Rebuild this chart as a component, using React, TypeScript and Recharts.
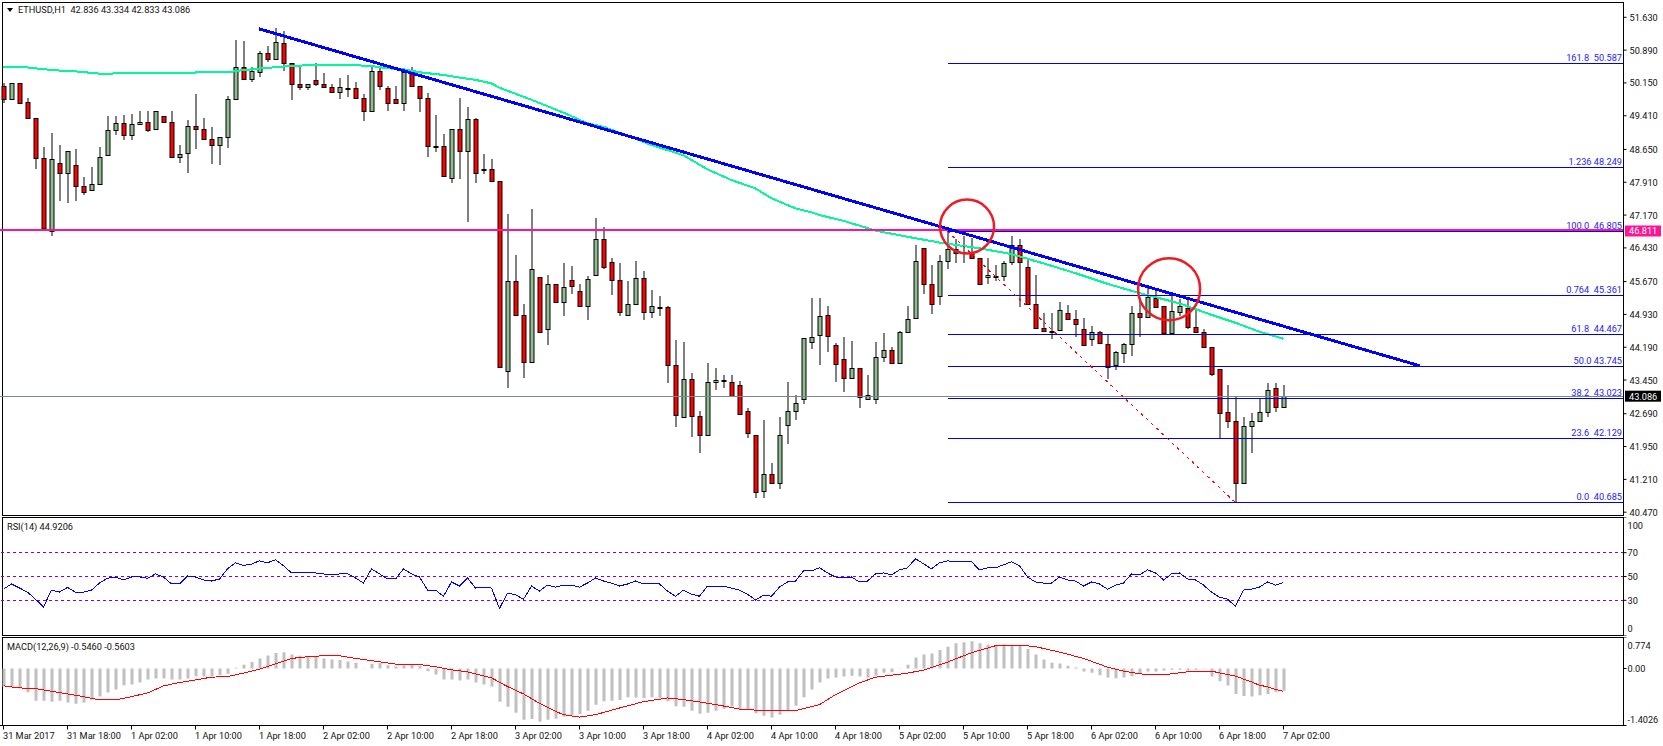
import React from 'react';
import { ComposedChart, Bar, Line, XAxis, YAxis, ReferenceLine, ReferenceDot } from 'recharts';

const opens = [50.09,49.79,50.14,49.71,49.37,48.45,46.81,48.35,48.11,48.29,
  47.82,47.73,47.88,48.52,49.08,49.24,48.97,49.22,49.28,49.10,
  49.40,49.26,48.47,48.56,49.19,49.10,48.88,48.74,48.92,49.78,
  50.50,50.23,50.39,50.82,50.70,51.04,50.61,50.12,50.05,50.21,
  50.12,50.05,49.94,50.04,50.03,49.80,49.51,50.41,50.03,49.78,
  49.69,50.37,50.07,49.80,48.72,48.72,48.00,49.10,48.61,49.33,
  48.20,48.20,47.93,43.65,45.68,44.91,43.85,45.77,44.59,45.61,
  45.20,45.70,45.45,45.11,45.81,46.62,46.11,45.70,44.91,45.16,
  45.74,44.98,45.10,45.09,43.80,42.61,43.47,42.63,42.20,43.40,
  43.44,43.40,43.33,42.75,42.20,40.94,41.32,41.12,42.43,42.75,
  43.02,44.30,44.46,44.91,44.23,43.92,43.49,43.72,43.02,43.02,
  43.96,44.12,43.83,44.53,44.84,46.42,45.61,45.34,46.13,46.40,
  46.33,46.33,46.20,45.77,45.80,45.79,46.11,46.49,46.01,45.16,
  44.62,44.56,44.57,44.96,44.82,44.59,44.37,44.53,44.26,43.78,
  44.05,44.26,44.96,44.87,45.29,45.11,44.50,44.98,45.07,44.64,
  44.53,44.19,43.69,42.72,42.52,41.12,42.41,42.52,42.72,43.26,42.836];
const highs = [50.14,50.14,50.14,49.80,49.37,48.71,49.01,48.74,48.61,48.66,
  48.03,48.25,48.70,49.40,49.40,49.43,49.45,49.52,49.52,49.51,
  49.40,49.52,48.75,49.31,49.90,49.36,49.16,48.92,49.85,51.12,
  51.10,50.52,50.88,50.98,51.38,51.31,50.61,50.52,50.12,50.59,
  50.37,50.12,50.25,50.34,50.16,49.89,50.55,50.48,50.09,50.09,
  50.48,50.52,50.07,49.92,49.43,48.99,49.10,49.80,49.60,49.36,
  48.54,48.43,47.93,47.19,46.27,45.17,47.31,45.77,45.82,45.61,
  46.08,46.02,45.61,45.79,47.10,46.89,46.20,46.08,45.68,46.13,
  45.90,45.47,45.34,45.12,44.35,44.30,43.60,42.75,43.83,43.72,
  43.56,43.56,43.42,42.81,42.20,42.56,41.59,42.61,43.40,43.11,
  44.39,45.29,45.30,45.11,44.28,44.41,44.32,43.72,43.56,44.30,
  44.50,44.19,44.55,45.11,46.49,46.42,46.04,46.26,46.87,46.62,
  46.69,46.65,46.20,46.20,46.04,46.13,46.69,46.62,46.20,45.81,
  44.96,44.96,45.20,45.14,45.02,44.84,44.66,44.55,44.48,44.10,
  44.28,45.11,45.29,45.52,45.48,45.11,45.35,45.28,45.26,45.07,
  44.59,44.19,43.69,43.33,43.07,42.61,42.70,43.04,43.38,43.38,43.334];
const lows = [49.69,49.79,49.67,49.37,48.21,46.88,46.70,47.49,47.45,47.49,
  47.62,47.73,47.88,48.52,48.97,48.86,48.86,49.22,49.05,49.10,
  49.26,48.47,48.35,48.13,48.67,48.88,48.33,48.31,48.69,49.78,
  50.23,50.18,50.29,50.63,50.70,50.43,49.77,50.00,50.00,50.09,
  50.05,49.94,49.79,49.84,49.80,49.30,49.51,50.00,49.52,49.69,
  49.52,50.07,49.50,48.49,48.60,48.04,47.90,47.99,47.02,47.90,
  48.10,47.93,43.74,43.28,44.91,43.50,43.85,44.50,44.24,45.20,
  44.90,45.40,45.11,44.80,45.81,45.96,45.37,44.90,44.91,45.16,
  44.81,44.86,44.90,43.39,42.40,42.61,42.17,41.81,42.20,43.23,
  43.28,43.08,42.68,42.15,40.80,40.80,41.12,40.99,42.00,42.56,
  42.90,44.14,43.80,44.09,43.41,43.19,43.49,42.83,43.02,42.90,
  43.85,43.83,43.83,44.53,44.84,45.40,44.95,45.15,45.96,46.10,
  46.10,46.20,45.61,45.61,45.68,45.68,46.04,45.10,45.16,44.59,
  44.55,44.38,44.57,44.82,44.43,44.21,44.21,44.28,43.48,43.68,
  43.84,44.00,44.43,44.87,45.10,44.50,44.47,44.90,44.59,44.53,
  44.19,43.53,42.14,42.36,40.685,41.12,41.80,42.52,42.62,42.74,42.833];
const closes = [49.79,50.14,49.70,49.37,48.45,46.88,48.43,48.11,48.61,47.82,
  47.70,47.88,48.49,49.08,49.24,48.97,49.22,49.28,49.08,49.51,
  49.26,48.47,48.54,49.19,49.10,48.88,48.74,48.92,49.78,50.50,
  50.23,50.43,50.82,50.70,51.07,50.61,50.12,50.05,50.12,50.12,
  50.05,49.94,50.05,50.03,49.80,49.51,50.41,50.09,49.69,49.69,
  50.39,50.07,49.80,48.72,48.72,48.04,49.10,48.61,49.33,48.11,
  48.20,47.93,43.74,45.68,44.91,43.85,45.95,44.54,45.61,45.20,
  45.54,45.56,45.11,45.72,46.62,45.99,45.70,44.98,45.16,45.74,
  44.98,45.11,45.10,43.80,42.66,43.47,42.63,42.20,43.40,43.44,
  43.44,43.08,42.68,42.25,40.92,41.32,41.12,42.20,42.75,42.93,
  44.39,44.41,44.89,44.44,43.81,43.49,43.72,43.06,43.11,43.96,
  44.12,43.83,44.53,44.82,46.13,45.61,45.16,46.13,46.40,46.31,
  46.31,46.20,45.61,45.81,45.80,46.08,46.49,46.11,45.16,44.62,
  44.55,44.56,45.02,44.82,44.71,44.23,44.53,44.28,43.75,44.08,
  44.26,44.96,44.87,45.32,45.10,44.50,45.00,45.11,44.64,44.53,
  44.19,43.58,42.70,42.52,41.12,42.41,42.52,42.72,43.22,42.84,43.086];

// moving average, read at the bars where the curve could be read
const maBars = [0,3,5,7,9,12,19,20,28,30,35,38,44,46,48,50,52,54,55,57,59,61,62,66,70,73,75,78,81,85,88,91,94,96,99,101,102,105,109,113,117,122,126,130,134,138,142,147,151,154,157,160];
const maValues = [50.52,50.50,50.46,50.43,50.41,50.36,50.37,50.38,50.39,50.44,50.52,50.55,50.55,50.53,50.48,50.46,50.39,50.35,50.33,50.27,50.22,50.14,50.04,49.77,49.48,49.24,49.16,48.96,48.75,48.52,48.20,47.96,47.77,47.55,47.32,47.23,47.17,47.04,46.82,46.68,46.55,46.42,46.29,46.08,45.86,45.62,45.41,45.18,44.92,44.74,44.54,44.38];

const rsi = [39.4,43.7,40.3,36.9,30.9,24.4,38.6,36.9,40.8,36.9,36.9,38.6,44.5,48.5,49.6,47.1,49.6,49.6,48.5,52.2,
  49.6,43.7,43.7,50.5,49.6,47.1,46.2,47.9,56.4,61.5,59.3,60.4,63.2,61.5,64.1,59.0,53.0,53.0,53.0,53.0,
  52.2,51.3,52.2,52.2,48.8,44.5,56.4,52.2,47.9,47.9,56.4,52.2,49.6,38.6,38.6,33.4,45.4,42.0,48.8,40.3,
  41.1,40.3,23.2,36.0,34.6,30.9,42.0,37.7,42.8,41.1,42.8,42.8,41.1,44.5,48.8,46.2,44.5,42.0,43.7,46.2,
  43.7,43.7,43.7,37.7,33.4,38.6,35.1,33.4,42.0,42.0,42.0,40.3,38.6,35.1,30.3,34.3,33.4,41.1,45.4,46.2,
  54.7,54.7,57.3,53.0,49.6,48.8,49.6,45.4,46.2,52.2,53.0,51.3,55.6,57.3,64.9,60.7,56.4,61.5,63.2,62.4,
  62.4,62.4,55.6,57.3,57.3,59.8,62.4,59.0,49.6,45.4,44.5,44.5,49.6,47.1,46.2,42.0,45.4,43.7,39.4,42.8,
  44.5,52.2,51.3,55.6,53.0,47.1,52.2,53.0,47.9,47.1,42.8,36.9,32.6,30.9,24.9,38.6,39.4,41.1,45.4,42.8,44.92];

const macdHist = [-0.445,-0.453,-0.494,-0.585,-0.791,-0.791,-0.816,-0.791,-0.84,-0.865,-0.84,-0.766,-0.692,-0.593,-0.519,-0.412,-0.396,-0.346,-0.272,-0.247,
  -0.247,-0.272,-0.272,-0.247,-0.19,-0.198,-0.19,-0.165,-0.132,0.016,0.091,0.157,0.247,0.321,0.379,0.396,0.346,0.313,0.297,0.28,
  0.247,0.222,0.206,0.173,0.14,0.008,0.115,0.132,0.082,0.049,0.074,0.091,0.058,-0.066,-0.148,-0.272,-0.272,-0.297,-0.272,-0.346,
  -0.396,-0.445,-0.816,-0.939,-1.088,-1.261,-1.244,-1.31,-1.261,-1.236,-1.187,-1.154,-1.121,-1.038,-0.89,-0.808,-0.791,-0.775,-0.709,-0.717,
  -0.725,-0.709,-0.725,-0.808,-0.931,-0.939,-1.038,-1.112,-1.088,-1.038,-0.989,-0.931,-1.005,-1.014,-1.104,-1.162,-1.203,-1.137,-1.03,-0.915,
  -0.709,-0.519,-0.346,-0.247,-0.222,-0.198,-0.181,-0.198,-0.231,-0.181,-0.107,-0.091,0.008,0.091,0.272,0.346,0.371,0.453,0.536,0.618,
  0.643,0.667,0.618,0.585,0.56,0.593,0.585,0.56,0.478,0.346,0.222,0.14,0.124,0.066,0.025,-0.074,-0.107,-0.165,-0.222,-0.239,
  -0.222,-0.19,-0.124,-0.074,-0.074,-0.049,-0.033,-0.033,-0.049,-0.033,-0.008,-0.198,-0.313,-0.42,-0.626,-0.676,-0.692,-0.659,-0.626,-0.577,-0.546];

const signalBars = [0,2,4,6,8,10,12,14,16,18,20,22,24,26,28,30,32,34,36,38,40,42,44,47,49,52,54,56,58,61,63,65,67,69,70,72,74,77,80,83,85,87,90,92,95,99,102,104,107,109,113,115,118,121,124,127,129,132,135,138,140,143,145,148,151,154,156,157,158,159,160];
const signalValues = [-0.428,-0.478,-0.494,-0.56,-0.626,-0.692,-0.775,-0.775,-0.692,-0.602,-0.428,-0.346,-0.28,-0.214,-0.198,-0.115,-0.016,0.115,0.247,0.288,0.313,0.313,0.247,0.165,0.107,0.099,0.041,-0.033,-0.082,-0.231,-0.445,-0.626,-0.857,-1.055,-1.137,-1.195,-1.137,-0.972,-0.816,-0.725,-0.766,-0.824,-0.923,-0.997,-1.038,-1.038,-0.89,-0.643,-0.354,-0.214,-0.115,-0.041,0.157,0.387,0.56,0.577,0.536,0.404,0.247,0.033,-0.066,-0.157,-0.157,-0.082,-0.066,-0.19,-0.33,-0.412,-0.45,-0.519,-0.5603];

const timeLabels = ['31 Mar 2017','31 Mar 18:00','1 Apr 02:00','1 Apr 10:00','1 Apr 18:00','2 Apr 02:00','2 Apr 10:00','2 Apr 18:00','3 Apr 02:00','3 Apr 10:00','3 Apr 18:00','4 Apr 02:00','4 Apr 10:00','4 Apr 18:00','5 Apr 02:00','5 Apr 10:00','5 Apr 18:00','6 Apr 02:00','6 Apr 10:00','6 Apr 18:00','7 Apr 02:00'];
const priceTicks = [51.63,50.89,50.15,49.41,48.65,47.91,47.17,46.43,45.67,44.93,44.19,43.45,42.69,41.95,41.21,40.47];
const rsiTicks = [100,70,50,30,0];
const rsiLevels = [70,50,30];
const macdTicks = [0.774,0,-1.4026];

const fibPrices = [50.587,48.249,46.805,45.361,44.467,43.745,43.023,42.129,40.685];
const fibLabels = ['161.8  50.587','1.236 48.249','100.0  46.805','0.764  45.361','61.8  44.467','50.0 43.745','38.2  43.023','23.6  42.129','0.0  40.685'];

const FONT = 'Roboto, sans-serif';
const FONT_SIZE = 9.2;
const TOTAL_BARS = 203;
const W = 1663;
const AXIS_W = 39.5;
const margin = { top: 0, right: 0, left: -0.5, bottom: 0 };

const rows = Array.from({ length: TOTAL_BARS }, (_, idx) => {
  const has = idx < opens.length;
  const maAt = maBars.indexOf(idx);
  const sigAt = signalBars.indexOf(idx);
  return {
    idx,
    open: has ? opens[idx] : null,
    high: has ? highs[idx] : null,
    low: has ? lows[idx] : null,
    close: has ? closes[idx] : null,
    ma: maAt >= 0 ? maValues[maAt] : null,
    rsi: has ? rsi[idx] : null,
    hist: has ? macdHist[idx] : null,
    signal: sigAt >= 0 ? signalValues[sigAt] : null,
  };
});

const Candle = (props: any) => {
  const { x, y, width, height, payload } = props;
  if (payload == null || payload.open == null) return null;
  const cx = x + width / 2;
  const h = Math.abs(height);
  const range = payload.high - payload.low || 1;
  const toY = (v: number) => y + ((payload.high - v) / range) * h;
  const top = Math.round(toY(Math.max(payload.open, payload.close)));
  const bottom = Math.round(toY(Math.min(payload.open, payload.close)));
  const up = payload.close >= payload.open;
  return (
    <g>
      <line x1={cx} x2={cx} y1={Math.round(y)} y2={Math.round(y + h)} stroke="#000" strokeWidth={1} />
      <rect x={cx - 2} y={top + 0.5} width={4} height={Math.max(bottom - top, 1)} fill={up ? '#8fbc8f' : '#ff0000'} stroke="#000" strokeWidth={1} />
    </g>
  );
};

// horizontal levels sit on whole pixels, as in the terminal
const CrispLine = ({ x1, x2, y1, y2, stroke, strokeWidth, strokeDasharray }: any) => {
  const off = strokeWidth % 2 ? 0.5 : 0;
  return (
    <line
      x1={x1}
      x2={x2}
      y1={Math.floor(y1) + off}
      y2={Math.floor(y2) + off}
      stroke={stroke}
      strokeWidth={strokeWidth}
      strokeDasharray={strokeDasharray}
      shapeRendering="crispEdges"
    />
  );
};

const AliasedLine = (props: any) => <line {...props} fill="none" shapeRendering="crispEdges" />;

const AxisTick = ({ x, y, payload, text, minY, maxY, dx }: any) => {
  const ty = Math.min(Math.max(y, minY), maxY);
  return (
    <text x={x + dx} y={ty} dominantBaseline="central" fontFamily={FONT} fontSize={FONT_SIZE} fill="#111">
      {text(payload.value)}
    </text>
  );
};

const TimeTick = ({ x, y, payload }: any) => (
  <text x={x - 0.5} y={y + 4} dominantBaseline="central" fontFamily={FONT} fontSize={FONT_SIZE} fill="#111">
    {timeLabels[payload.value / 8]}
  </text>
);

const FibLabel = ({ viewBox, text }: any) => (
  <text x={viewBox.x + viewBox.width - 1.5} y={viewBox.y - 6} textAnchor="end" dominantBaseline="central" fontFamily={FONT} fontSize={FONT_SIZE} fill="#2222ff" style={{ whiteSpace: 'pre' }}>
    {text}
  </text>
);

const PriceTag = ({ viewBox, text, bg }: any) => (
  <g>
    <rect x={viewBox.x + viewBox.width + 1.5} y={viewBox.y - 5.5} width={36} height={11} fill={bg} />
    <text x={viewBox.x + viewBox.width + 5.5} y={viewBox.y} dominantBaseline="central" fontFamily={FONT} fontSize={FONT_SIZE} fill="#fff">
      {text}
    </text>
  </g>
);

const Frame = ({ top, height }: { top: number; height: number }) => (
  <div style={{ position: 'absolute', left: 2, top, width: 1622, height, boxSizing: 'border-box', border: '1px solid #000' }} />
);

const Caption = ({ top, left, children }: { top: number; left: number; children: React.ReactNode }) => (
  <div style={{ position: 'absolute', left, top, fontFamily: FONT, fontSize: FONT_SIZE, lineHeight: '12px', color: '#111', whiteSpace: 'pre' }}>
    {children}
  </div>
);

const Panel = ({ top, children }: { top: number; children: React.ReactNode }) => (
  <div style={{ position: 'absolute', left: 0, top }}>{children}</div>
);

const priceAxisLine = { stroke: '#000' };

export default function App() {
  return (
    <div style={{ position: 'absolute', left: 0, top: 0, width: W, height: 746, background: '#fff', overflow: 'hidden' }}>
      <Frame top={2} height={514} />
      <Frame top={517} height={119} />
      <Frame top={637} height={89} />

      <Panel top={2}>
        <ComposedChart width={W} height={514} data={rows} margin={margin} barCategoryGap={0}>
          <XAxis dataKey="idx" scale="band" hide />
          <XAxis xAxisId="n" type="number" dataKey="idx" domain={[-0.5, 202.5]} allowDataOverflow hide />
          <YAxis
            orientation="right"
            width={AXIS_W}
            domain={[40.384, 51.975]}
            allowDataOverflow
            ticks={priceTicks}
            interval={0}
            tickSize={3}
            axisLine={priceAxisLine}
            tickLine={priceAxisLine}
            tick={(p: any) => <AxisTick {...p} dx={1} text={(v: number) => v.toFixed(3)} minY={0} maxY={514} />}
          />
          <ReferenceLine y={43.086} stroke="#778899" strokeWidth={1} shape={CrispLine} label={(p: any) => <PriceTag {...p} text="43.086" bg="#000" />} />
          <Bar dataKey={(d: any) => (d.open == null ? null : [d.low, d.high])} barSize={5} shape={Candle} isAnimationActive={false} />
          <Line dataKey="ma" stroke="#00fa9a" strokeWidth={2} dot={false} connectNulls shapeRendering="crispEdges" isAnimationActive={false} />
          {fibPrices.map((price, i) => (
            <ReferenceLine
              key={price}
              xAxisId="n"
              segment={[{ x: 118, y: price }, { x: 202.5, y: price }]}
              stroke="#0000e0"
              strokeWidth={1}
              shape={CrispLine}
              label={(p: any) => <FibLabel {...p} text={fibLabels[i]} />}
            />
          ))}
          <ReferenceLine y={46.811} stroke="#ff1493" strokeWidth={2} shape={CrispLine} label={(p: any) => <PriceTag {...p} text="46.811" bg="#ff1493" />} />
          <ReferenceLine xAxisId="n" segment={[{ x: 118, y: 46.805 }, { x: 154, y: 40.685 }]} stroke="#ff0000" strokeDasharray="3 4" strokeWidth={1} shape={AliasedLine} />
          <ReferenceLine xAxisId="n" segment={[{ x: 31.94, y: 51.37 }, { x: 177.06, y: 43.77 }]} stroke="#0000ff" strokeWidth={3} shape={AliasedLine} />
          <ReferenceDot xAxisId="n" x={120.44} y={46.91} r={27} fill="none" stroke="#ed1c24" strokeWidth={2.5} />
          <ReferenceDot xAxisId="n" x={145.7} y={45.5} r={31} fill="none" stroke="#ed1c24" strokeWidth={2.5} />
        </ComposedChart>
      </Panel>

      <Panel top={517}>
        <ComposedChart width={W} height={119} data={rows} margin={margin}>
          <XAxis dataKey="idx" scale="band" hide />
          <YAxis
            orientation="right"
            width={AXIS_W}
            domain={[0, 100]}
            ticks={rsiTicks}
            interval={0}
            tickSize={3}
            axisLine={priceAxisLine}
            tickLine={priceAxisLine}
            tick={(p: any) => <AxisTick {...p} dx={-1} text={(v: number) => String(v)} minY={8} maxY={111} />}
          />
          {rsiLevels.map((level) => (
            <ReferenceLine key={level} y={level} stroke="#8000e0" strokeDasharray="3 3" strokeWidth={1} shape={CrispLine} />
          ))}
          <Line dataKey="rsi" stroke="#0000ff" strokeWidth={1} dot={false} shapeRendering="crispEdges" isAnimationActive={false} />
        </ComposedChart>
      </Panel>

      <Panel top={637}>
        <ComposedChart width={W} height={109} data={rows} margin={margin} barCategoryGap={0}>
          <XAxis
            dataKey="idx"
            scale="band"
            height={20.5}
            ticks={timeLabels.map((_, i) => i * 8)}
            interval={0}
            tickSize={4}
            axisLine={priceAxisLine}
            tickLine={priceAxisLine}
            tick={TimeTick}
          />
          <YAxis
            orientation="right"
            width={AXIS_W}
            domain={[-1.4026, 0.774]}
            allowDataOverflow
            ticks={macdTicks}
            interval={0}
            tickSize={3}
            axisLine={priceAxisLine}
            tickLine={priceAxisLine}
            tick={(p: any) => <AxisTick {...p} dx={-1} text={(v: number) => (v === 0 ? '0.00' : String(v))} minY={8} maxY={82} />}
          />
          <Bar dataKey="hist" fill="#c0c0c0" barSize={3} isAnimationActive={false} />
          <Line dataKey="signal" stroke="#ff0000" strokeWidth={1} dot={false} connectNulls shapeRendering="crispEdges" isAnimationActive={false} />
        </ComposedChart>
      </Panel>

      <div style={{ position: 'absolute', left: 7, top: 8, width: 0, height: 0, borderLeft: '3.5px solid transparent', borderRight: '3.5px solid transparent', borderTop: '4px solid #000' }} />
      <Caption top={4} left={18}>{'ETHUSD,H1  42.836 43.334 42.833 43.086'}</Caption>
      <Caption top={521} left={7}>{'RSI(14) 44.9206'}</Caption>
      <Caption top={641} left={7}>{'MACD(12,26,9) -0.5460 -0.5603'}</Caption>
    </div>
  );
}
